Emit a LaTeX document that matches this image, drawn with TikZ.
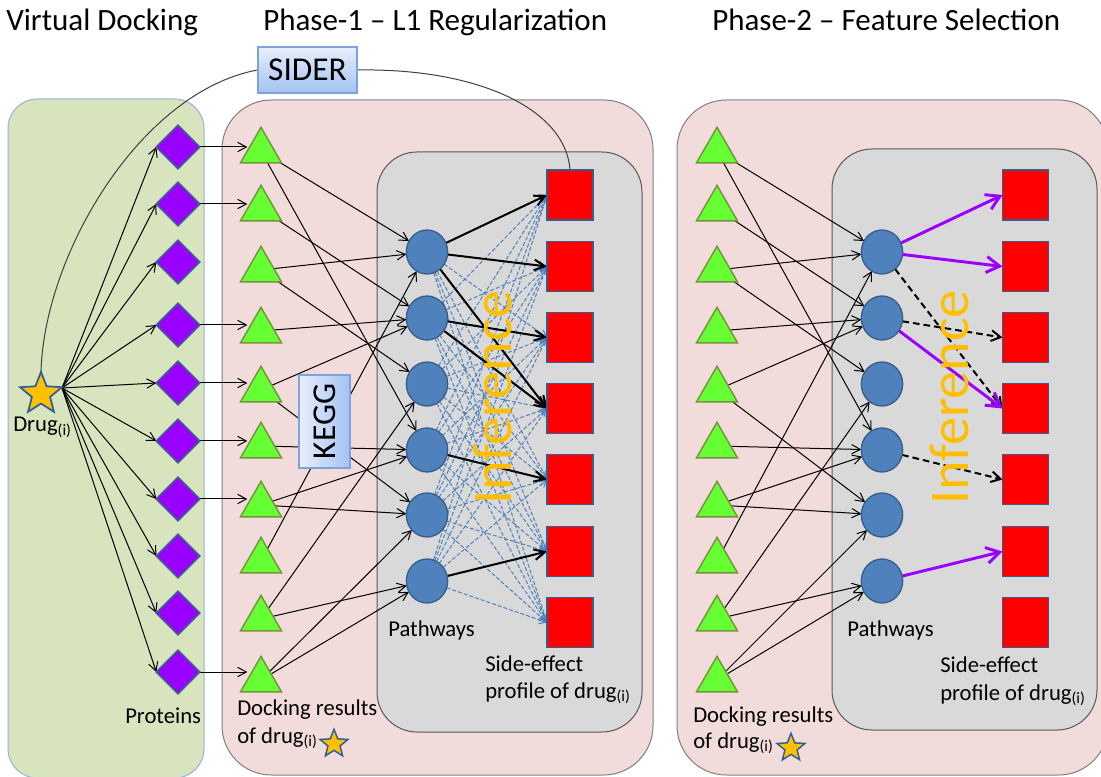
\documentclass[tikz,border=0pt]{standalone}
\usepackage{fontspec}
\setmainfont{Carlito}
\usetikzlibrary{shapes.geometric,arrows.meta}
\pgfdeclarelayer{bg}
\pgfdeclarelayer{mid}
\pgfdeclarelayer{fg}
\pgfsetlayers{bg,mid,main,fg}
\definecolor{panelgreen}{HTML}{D7E4BD}
\definecolor{panelgreenb}{HTML}{95B3D7}
\definecolor{panelpink}{HTML}{F2DCDB}
\definecolor{panelpinkb}{HTML}{7F7F7F}
\definecolor{panelgray}{HTML}{D9D9D9}
\definecolor{panelgrayb}{HTML}{595959}
\definecolor{diafill}{HTML}{9900FF}
\definecolor{shapeb}{HTML}{3B5F8F}
\definecolor{trifill}{HTML}{66FF33}
\definecolor{trib}{HTML}{77933C}
\definecolor{cirfill}{HTML}{4F81BD}
\definecolor{cirb}{HTML}{385D8A}
\definecolor{sqfill}{HTML}{FF0000}
\definecolor{starfill}{HTML}{FFC000}
\definecolor{starb}{HTML}{2E5D9A}
\definecolor{infcol}{HTML}{FFBF00}
\definecolor{dashblue}{HTML}{4F81BD}
\definecolor{purp}{HTML}{9900FF}
\definecolor{boxtop}{HTML}{E8EFFB}
\definecolor{boxbot}{HTML}{A3C2F4}
\definecolor{boxb}{HTML}{7EA3D8}
\definecolor{curvecol}{HTML}{404040}

\newcommand\phasenet[4]{%
  \foreach \y [count=\i] in {151,209,270,331,390,446,505,561,619,680}
    \node[tri] (#1t\i) at (#2,\y) {};
  \foreach \y [count=\i] in {252,318,384,450,515,581}
    \node[cir] (#1c\i) at (#3,\y) {};
  \foreach \y [count=\i] in {195,266.5,337.5,408.5,479.5,551.5,622.5}
    \node[sq] (#1s\i) at (#4,\y) {};
  \begin{pgfonlayer}{mid}
    \foreach \a/\b in {1/1,1/4,2/2,3/1,3/3,4/2,5/2,5/5,6/4,7/4,7/5,8/1,9/3,9/6,10/5,10/6}
      \draw[thinarr] (#1t\a) -- (#1c\b);
  \end{pgfonlayer}
}

\begin{document}
\begin{tikzpicture}[x=0.75pt,y=-0.75pt,
  tri/.style={regular polygon, regular polygon sides=3, minimum size=35.5pt, inner sep=0pt, outer sep=0pt, fill=trifill, draw=trib, line width=1.1pt},
  diam/.style={diamond, aspect=1, minimum width=32.5pt, minimum height=32.5pt, inner sep=0pt, outer sep=0pt, fill=diafill, draw=shapeb, line width=1.2pt},
  cir/.style={ellipse, minimum width=31pt, minimum height=33pt, inner sep=0pt, outer sep=0pt, fill=cirfill, draw=cirb, line width=1pt},
  sq/.style={rectangle, minimum width=34.5pt, minimum height=37.5pt, inner sep=0pt, outer sep=0pt, fill=sqfill, draw=cirb, line width=1.1pt},
  bigstar/.style={star, star points=5, star point ratio=2.3, minimum size=33pt, inner sep=0pt, outer sep=0pt, fill=starfill, draw=starb, line width=1.3pt},
  smallstar/.style={star, star points=5, star point ratio=2.3, minimum size=22pt, inner sep=0pt, outer sep=0pt, fill=starfill, draw=starb, line width=1.1pt},
  panel/.style={line width=0.75pt},
  title/.style={font=\fontsize{23.25}{28}\selectfont, inner sep=0pt, anchor=base west},
  lab/.style={font=\fontsize{17}{20}\selectfont, inner sep=0pt, anchor=base west},
  inf/.style={font=\fontsize{42}{50}\selectfont, text=infcol, rotate=90, inner sep=0pt, anchor=base west},
  dbbox/.style={draw=boxb, line width=0.9pt, inner sep=0pt, font=\fontsize{25}{30}\selectfont},
  thinarr/.style={draw=black, line width=0.75pt, -{Straight Barb[length=6.5pt,width=7pt]}},
  tharr/.style={draw=black, line width=1.5pt, -{Straight Barb[length=8pt,width=8pt]}},
  bluedash/.style={draw=dashblue, line width=0.75pt, dash pattern=on 3pt off 1.5pt, -{Straight Barb[length=5pt,width=6pt]}},
  purparr/.style={draw=purp, line width=2.2pt, -{Straight Barb[length=10pt,width=12pt]}},
  bdash/.style={draw=black, line width=1.5pt, dash pattern=on 5pt off 3pt, -{Straight Barb[length=7pt,width=8pt]}},
  curve/.style={draw=curvecol, line width=0.75pt}
]
\useasboundingbox (0,0) rectangle (1101,777);

% panels
\begin{pgfonlayer}{bg}
  \draw[panel, fill=panelgreen, draw=panelgreenb, rounded corners=22pt] (8,99) rectangle (204,778);
  \draw[panel, fill=panelpink, draw=panelpinkb, rounded corners=37pt] (222,100) rectangle (653,775);
  \draw[panel, fill=panelgray, draw=panelgrayb, rounded corners=30pt] (377,152) rectangle (642,732);
  \draw[panel, fill=panelpink, draw=panelpinkb, rounded corners=37pt] (677,100) rectangle (1108,775);
  \draw[panel, fill=panelgray, draw=panelgrayb, rounded corners=30pt] (832,149) rectangle (1097,730);
\end{pgfonlayer}

% titles
\node[title] (t-vd) at (6,31) {Virtual Docking};
\node[title] (t-p1) at (263,31) {Phase-1 -- L1 Regularization};
\node[title] (t-p2) at (712,31) {Phase-2 -- Feature Selection};

% drug star and proteins
\node[bigstar] (drug) at (41,394) {};
\coordinate (drugtip) at (62,388);
\foreach \y [count=\i] in {147,204,262,325,383,441,499,556,613,672}
  \node[diam] (d\i) at (178,\y) {};

% phase networks
\phasenet{a}{261}{427}{570}
\phasenet{b}{717}{882}{1025.5}

% database boxes and inference texts
\begin{pgfonlayer}{fg}
  \node[dbbox, top color=boxtop, bottom color=boxbot, minimum width=74.25pt, minimum height=34.5pt] (sider) at (307.5,70) {SIDER};
  \node[dbbox, left color=boxtop, right color=boxbot, minimum width=38.25pt, minimum height=69.75pt] (kegg) at (324.5,421.5) {\rotatebox{90}{KEGG}};
  \node[inf] (inf1) at (511,505) {Inference};
  \node[inf] (inf2) at (968,505) {Inference};
\end{pgfonlayer}

% connectors
\begin{pgfonlayer}{mid}
  \foreach \i in {1,...,10}
    \draw[thinarr] (drugtip) -- (d\i.west);
  \foreach \i in {1,2,4,5,6,7,10}
    \draw[thinarr] (d\i.east) -- (d\i.east -| at\i.west);
  % phase 1 inference
  \foreach \a in {1,...,6}
    \foreach \b in {1,...,7}
      \draw[bluedash] (ac\a) -- (as\b.west);
  \foreach \a/\b in {1/1,1/2,1/4,2/3,2/4,4/5,6/6}
    \draw[tharr] (ac\a) -- (as\b.west);
  % phase 2 selection
  \foreach \a/\b in {1/4,2/3,4/5}
    \draw[bdash] (bc\a) -- (bs\b.west);
  \foreach \a/\b in {1/1,1/2,2/4,6/6}
    \draw[purparr] (bc\a) -- (bs\b.west);
  % SIDER curves
  \draw[curve] (sider.west) .. controls (140,92) and (44,255) .. (drug.north);
  \draw[curve] (sider.east) .. controls (480,68) and (566,110) .. (as1.north);
\end{pgfonlayer}

% labels
\node[lab] (l-drug) at (13,432) {Drug\textsubscript{(i)}};
\node[lab] (l-prot) at (125,723) {Proteins};
\node[lab] (l-dock1) at (237,715) {Docking results};
\node[lab] (l-of1) at (237,743) {of drug\textsubscript{(i)}};
\node[smallstar] (ss1) at (334,744) {};
\node[lab] (l-path1) at (388,636) {Pathways};
\node[lab] (l-se1) at (485,671) {Side-effect};
\node[lab] (l-prof1) at (485,698) {profile of drug\textsubscript{(i)}};
\node[lab] (l-dock2) at (693,722) {Docking results};
\node[lab] (l-of2) at (693,748) {of drug\textsubscript{(i)}};
\node[smallstar] (ss2) at (791,748) {};
\node[lab] (l-path2) at (847,636) {Pathways};
\node[lab] (l-se2) at (940,672) {Side-effect};
\node[lab] (l-prof2) at (940,700) {profile of drug\textsubscript{(i)}};
\end{tikzpicture}
\end{document}
